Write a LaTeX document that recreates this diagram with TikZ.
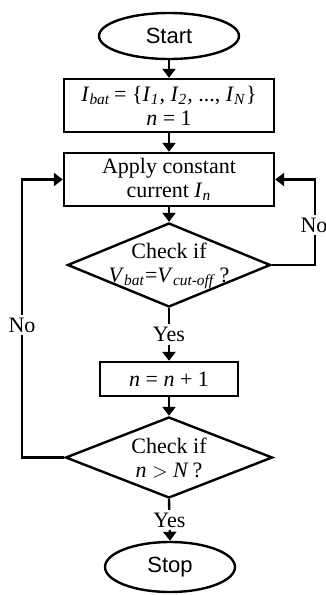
\documentclass[tikz,border=0pt]{standalone}
\usepackage{fontspec}
\setmainfont{Liberation Serif}
\newfontfamily\arialfont{Liberation Sans}
\usetikzlibrary{shapes.geometric,arrows.meta}
\newcommand{\vi}[1]{\textit{#1}}
\newcommand{\sbi}[1]{\textsubscript{\textit{#1}}}
\begin{document}
\begin{tikzpicture}[x=0.5pt,y=-0.5pt,
  every node/.style={font=\fontsize{11}{12}\selectfont},
  line/.style={line width=1.2pt},
  arr/.style={line width=1.2pt,-{Triangle[length=4.5pt,width=6.5pt]}},
  term/.style={ellipse,draw,line width=1.2pt,inner sep=0pt,font=\arialfont\fontsize{11}{12}\selectfont},
  proc/.style={rectangle,draw,line width=1.2pt,inner sep=0pt,align=center},
  dec/.style={diamond,draw,line width=1.2pt,inner sep=0pt},
  dectext/.style={align=center,inner sep=0pt},
  lbl/.style={fill=white,inner sep=1.5pt}]
\useasboundingbox (0,0) rectangle (326,595);
\node[term,minimum width=70pt,minimum height=23pt] (start) at (169,36) {Start};
\node[proc,minimum width=105pt,minimum height=26.5pt] (b1) at (169,105.5)
  {\vi{I}\sbi{bat}\,= \{\vi{I}\sbi{1}, \vi{I}\sbi{2}, ..., \vi{I}\sbi{N}\}\\ \vi{n} = 1};
\node[proc,minimum width=105pt,minimum height=26.5pt] (b2) at (169,179.5)
  {Apply constant\\ current \vi{I}\sbi{n}};
\node[dec,minimum width=101.5pt,minimum height=42pt] (d1) at (169,265) {};
\node[dectext] (d1t) at (169,266) {Check if\\ \vi{V}\sbi{bat}=\vi{V}\sbi{cut-off}\,?};
\node[proc,minimum width=69pt,minimum height=17pt] (b3) at (169,379) {\vi{n} = \vi{n} + 1};
\node[dec,minimum width=103.5pt,minimum height=40.5pt] (d2) at (169,457.5) {};
\node[dectext] (d2t) at (169,458) {Check if\\ \vi{n} {\fontsize{10}{12}\selectfont$>$} \vi{N}\,?};
\node[term,minimum width=65pt,minimum height=25pt] (stop) at (170,567) {Stop};
\coordinate (rr) at (315,265);
\coordinate (ll) at (22,457.5);
\draw[arr] (start) -- (b1);
\draw[arr] (b1) -- (b2);
\draw[arr] (b2) -- (d1);
\draw[arr] (d1.south) -- node[lbl] (yes1) {Yes} (b3.north);
\draw[arr] (b3) -- (d2);
\draw[arr] (d2.south) -- node[lbl] (yes2) {Yes} (stop.north);
\draw[arr] (d1.east) -- (rr) |- (b2.east);
\draw[arr] (d2.west) -- (ll) |- (b2.west);
\node[lbl] (no1) at (314,225) {No};
\node[lbl] (no2) at (22,325) {No};
\end{tikzpicture}
\end{document}
